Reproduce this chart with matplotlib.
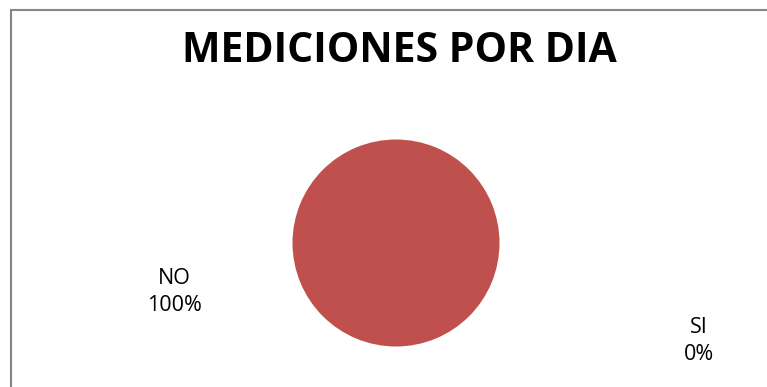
import matplotlib
matplotlib.use("Agg")
import matplotlib.pyplot as plt
from matplotlib.lines import Line2D

categories = ["NO", "SI"]
values = [100, 0]
colors = ["#C0504D", "#4F81BD"]
title = "MEDICIONES POR DIA"

W, H = 767, 387
fig = plt.figure(figsize=(W / 100, H / 100), dpi=100)
fig.patch.set_facecolor("white")

# Outer chart border (only left and top visible in the crop)
fig.add_artist(Line2D([11 / W, 11 / W], [0, 1 - 9.5 / H], transform=fig.transFigure,
                      color="#868686", lw=1.5))
fig.add_artist(Line2D([11 / W, 1], [1 - 9.5 / H, 1 - 9.5 / H], transform=fig.transFigure,
                      color="#868686", lw=1.5))

cx, cy, r = 396, 243, 103.5
ax = fig.add_axes([(cx - r) / W, 1 - (cy + r) / H, 2 * r / W, 2 * r / H])
ax.pie(values, colors=colors, startangle=90, counterclock=False,
       wedgeprops=dict(linewidth=0))
ax.set_xlim(-1, 1)
ax.set_ylim(-1, 1)
ax.set_aspect("equal")
ax.axis("off")

fig.text(399 / W, 1 - 62 / H, title, ha="center", va="baseline",
         fontsize=29.5, fontweight="bold", family="Open Sans", color="black")

total = sum(values)
label_pos = [(174, 292), (699, 341)]
for cat, v, (x, y) in zip(categories, values, label_pos):
    fig.text(x / W, 1 - y / H, f"{cat}\n{v / total:.0%}", ha="center", va="center",
             fontsize=15.5, family="Open Sans", color="black", linespacing=1.35)

fig.savefig("out.png", dpi=100, facecolor="white")
